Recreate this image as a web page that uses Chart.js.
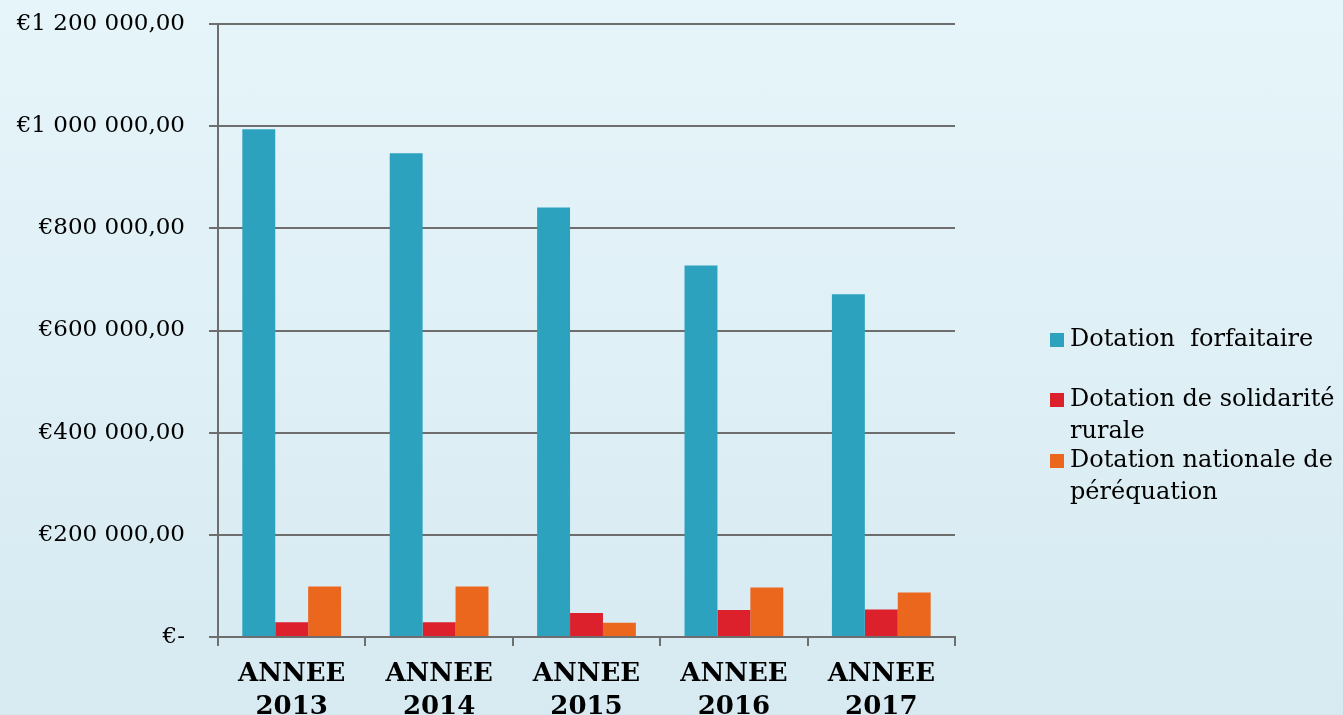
<!DOCTYPE html>
<html>
<head>
<meta charset="utf-8">
<script src="https://cdn.jsdelivr.net/npm/chart.js@4"></script>
<style>
  html, body { margin: 0; padding: 0; }
  body {
    width: 1343px; height: 715px; overflow: hidden;
    background: linear-gradient(to bottom, #e6f5fa 0%, #d7eaf1 100%);
  }
  #wrap { position: relative; width: 1343px; height: 715px; }
  canvas { display: block; }
</style>
</head>
<body>
<div id="wrap"><canvas id="DotationsChart" width="1343" height="715"></canvas></div>
<script>
const years = [['ANNEE', '2013'], ['ANNEE', '2014'], ['ANNEE', '2015'], ['ANNEE', '2016'], ['ANNEE', '2017']];
const forfaitaire = [994000, 947000, 841000, 727000, 671000];
const solidarite = [29000, 29000, 47000, 53000, 54000];
const perequation = [99000, 99000, 28000, 97000, 87000];
const seriesNames = [['Dotation  forfaitaire'], ['Dotation de solidarité', 'rurale'], ['Dotation nationale de', 'péréquation']];
const seriesColors = ['#2ca2bf', '#dc212c', '#eb671e'];
const yMax = 1200000;
const yStep = 200000;

const fontFamily = '"DejaVu Serif", "Liberation Serif", serif';

function euro(v) {
    if (v === 0) return '€-';
    let s = String(Math.round(v)).replace(/\B(?=(\d{3})+(?!\d))/g, ' ');
    return '€' + s + ',00';
}

// legend on the right, drawn by hand so the labels can wrap
const sideLegend = {
    id: 'sideLegend',
    afterDraw(chart) {
        const c = chart.ctx;
        const tops = [340, 400, 461];
        c.save();
        c.font = '24px ' + fontFamily;
        c.textBaseline = 'middle';
        chart.data.datasets.forEach(function (ds, i) {
            const y = tops[i];
            c.fillStyle = ds.backgroundColor;
            c.fillRect(1050, y - 7, 14, 14);
            c.fillStyle = '#000';
            ds.legendLines.forEach(function (line, j) {
                c.fillText(line, 1070, y + j * 32);
            });
        });
        c.restore();
    }
};

let ctx = document.getElementById('DotationsChart');

const dataSets = [forfaitaire, solidarite, perequation].map(function (vals, i) {
    return {
        label: seriesNames[i].join(' '),
        legendLines: seriesNames[i],
        data: vals,
        backgroundColor: seriesColors[i],
        borderWidth: 0,
        categoryPercentage: 0.67,
        barPercentage: 1.0
    };
});

var dotChart = new Chart(ctx, {
    type: 'bar',
    data: {
        labels: years,
        datasets: dataSets
    },
    plugins: [sideLegend],
    options: {
        responsive: false,
        animation: false,
        devicePixelRatio: 1,
        layout: {
            padding: { left: 0, top: 24, right: 388, bottom: 0 }
        },
        plugins: {
            legend: { display: false },
            tooltip: { enabled: false }
        },
        scales: {
            x: {
                grid: {
                    offset: true,
                    drawOnChartArea: false,
                    drawTicks: true,
                    tickLength: 9,
                    color: '#6e6e6e',
                    lineWidth: 2
                },
                border: { color: '#6e6e6e', width: 2 },
                ticks: {
                    color: '#000',
                    padding: 11,
                    maxRotation: 0,
                    font: { family: fontFamily, size: 26, weight: 'bold', lineHeight: 1.3 }
                },
                afterFit(scale) {
                    scale.height = 78;
                    scale.paddingLeft = 0;
                    scale.paddingRight = 0;
                }
            },
            y: {
                min: 0,
                max: yMax,
                ticks: {
                    stepSize: yStep,
                    color: '#000',
                    padding: 24,
                    font: { family: fontFamily, size: 23 },
                    callback: function (v) { return euro(v); }
                },
                grid: {
                    color: '#6e6e6e',
                    lineWidth: 2,
                    tickLength: 9
                },
                border: { color: '#6e6e6e', width: 2 },
                afterFit(scale) {
                    scale.width = 218;
                    scale.paddingTop = 0;
                    scale.paddingBottom = 0;
                }
            }
        }
    }
});
</script>
</body>
</html>
